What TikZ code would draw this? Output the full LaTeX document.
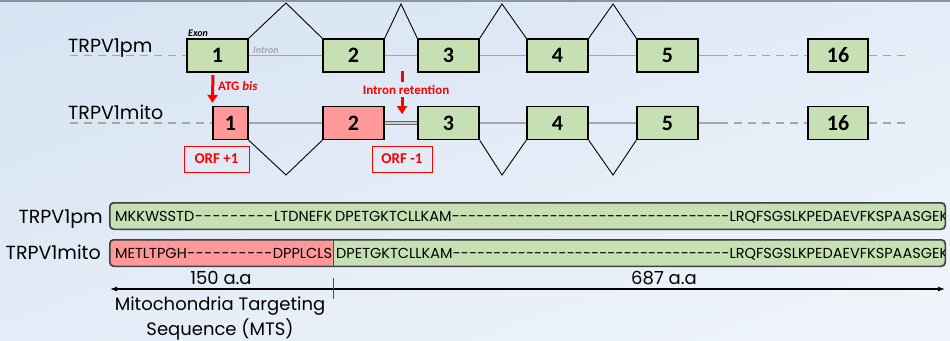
\documentclass[tikz,border=0pt]{standalone}
\usepackage{fontspec}
\setmainfont{Poppins}
\newfontfamily\carl{Carlito}
\usetikzlibrary{arrows.meta,shadings}
\definecolor{exg}{HTML}{C6E0B4}
\definecolor{exr}{HTML}{FF9999}
\definecolor{bgA}{HTML}{D6E3F2}
\definecolor{bgM}{HTML}{E3ECF7}
\definecolor{bgB}{HTML}{F1F5FB}
\definecolor{intr}{HTML}{A6A6A6}
\definecolor{redA}{HTML}{FF0000}
\definecolor{topl}{HTML}{8A949E}
\begin{document}
\begin{tikzpicture}[x=1pt,y=-1pt]
\tikzset{
 exon/.style={draw=black, line width=1.3pt, fill=exg, minimum width=61pt, minimum height=33pt, inner sep=0pt, font=\carl\bfseries\fontsize{22}{22}\selectfont},
 rexon/.style={exon, fill=exr},
 intron/.style={draw=intr, line width=1.5pt},
 introndash/.style={intron, dash pattern=on 8pt off 6pt},
 retained/.style={draw=black!60, line width=1pt, double=gray!40, double distance=1.2pt},
 splice/.style={draw=black, line width=0.9pt},
 redarrow/.style={draw=redA, line width=3pt, -{Triangle[length=8pt,width=10pt]}},
 redbar/.style={draw=redA, line width=3pt},
 redlab/.style={text=redA, font=\carl\bfseries\fontsize{13}{13}\selectfont, inner sep=0pt},
 orf/.style={draw=redA, line width=1pt, text=redA, font=\carl\bfseries\fontsize{15}{15}\selectfont, minimum height=26pt, inner sep=0pt},
 genelab/.style={font=\fontsize{19}{19}\selectfont, inner sep=0pt, text=black},
 pbar/.style={draw=black!75, line width=1pt, rounded corners=4pt, minimum width=835pt, minimum height=26pt, inner sep=0pt},
 seq/.style={font=\fontsize{14.5}{14.5}\selectfont, inner sep=0pt, text=black},
 scalelab/.style={font=\fontsize{18}{18}\selectfont, inner sep=0pt, text=black},
 smalllab/.style={font=\carl\fontsize{10}{10}\selectfont, inner sep=0pt},
}
\useasboundingbox (0,0) rectangle (950,340);
\shade[upper left=bgA, upper right=bgM, lower left=bgM, lower right=bgB] (0,0) rectangle (950,340);
\draw[topl, line width=2pt] (0,1) -- (950,1);

% ---------- gene rows ----------
\node[genelab, anchor=base west] (g1) at (68,52) {TRPV1pm};
\node[genelab, anchor=base west] (g2) at (68,119) {TRPV1mito};

\node[exon] (e1) at (217.5,55.5) {1};
\node[exon] (e2) at (353.5,55.5) {2};
\node[exon] (e3) at (448.5,55.5) {3};
\node[exon] (e4) at (557.5,55.5) {4};
\node[exon] (e5) at (667.5,55.5) {5};
\node[exon, minimum width=60pt] (e16) at (838,55.5) {16};

\node[rexon, minimum width=35pt] (m1) at (230.5,123) {1};
\node[rexon] (m2) at (353.5,123) {2};
\node[exon] (m3) at (448.5,123) {3};
\node[exon] (m4) at (557.5,123) {4};
\node[exon] (m5) at (667.5,123) {5};
\node[exon, minimum width=60pt] (m16) at (838,123) {16};

\coordinate (r1s) at (70,55.5);
\coordinate (r1c) at (720,55.5);
\coordinate (r1e) at (908,55.5);
\coordinate (r2s) at (70,123);
\coordinate (r2c) at (720,123);
\coordinate (r2e) at (908,123);

\draw[introndash] (r1s) -- (e1.west);
\draw[intron] (e1.east) -- (e2.west);
\draw[intron] (e2.east) -- (e3.west);
\draw[intron] (e3.east) -- (e4.west);
\draw[intron] (e4.east) -- (e5.west);
\draw[intron] (e5.east) -- (r1c);
\draw[introndash] (r1c) -- (e16.west);
\draw[introndash] (e16.east) -- (r1e);

\draw[introndash] (r2s) -- (m1.west);
\draw[intron] (m1.east) -- (m2.west);
\draw[retained] (m2.east) -- (m3.west);
\draw[intron] (m3.east) -- (m4.west);
\draw[intron] (m4.east) -- (m5.west);
\draw[intron] (m5.east) -- (r2c);
\draw[introndash] (r2c) -- (m16.west);
\draw[introndash] (m16.east) -- (r2e);

% splicing
\coordinate (p1) at (286,3);
\coordinate (p2) at (401,4);
\coordinate (p3) at (502,4);
\coordinate (p4) at (613,4);
\draw[splice] (e1.north east) -- (p1) -- (e2.north west);
\draw[splice] (e2.north east) -- (p2) -- (e3.north west);
\draw[splice] (e3.north east) -- (p3) -- (e4.north west);
\draw[splice] (e4.north east) -- (p4) -- (e5.north west);

\coordinate (v1) at (286,175);
\coordinate (v3) at (502,175);
\coordinate (v4) at (613,175);
\draw[splice] (m1.south east) -- (v1) -- (m2.south west);
\draw[splice] (m3.south east) -- (v3) -- (m4.south west);
\draw[splice] (m4.south east) -- (v4) -- (m5.south west);

\node[smalllab, font=\carl\bfseries\itshape\fontsize{10}{10}\selectfont, anchor=base west] (lex) at (188,36) {Exon};
\node[smalllab, text=intr, font=\carl\bfseries\itshape\fontsize{10}{10}\selectfont, anchor=base west] (lin) at (253,53) {Intron};

% red annotations
\coordinate (a1) at (213,75);
\draw[redarrow] (a1) -- ([yshift=3pt]m1.north west);
\node[redlab, anchor=west] (atg) at (218,86) {ATG \textit{bis}};

\coordinate (b1) at (402,71);
\coordinate (b2) at (402,82);
\coordinate (b3) at (402,97);
\coordinate (b4) at (402,114);
\draw[redbar] (b1) -- (b2);
\draw[redarrow] (b3) -- (b4);
\node[redlab] (irt) at (406,90) {Intron retention};

\node[orf, minimum width=65pt] (orf1) at (216.5,159) {ORF +1};
\node[orf, minimum width=60pt] (orf2) at (402,159) {ORF -1};

% ---------- protein bars ----------
\node[genelab, anchor=base east] (q1) at (103,223) {TRPV1pm};
\node[genelab, anchor=base east] (q2) at (101,259) {TRPV1mito};

\node[pbar, fill=exg] (bar1) at (527.5,216) {};
\node[pbar, fill=exg, path picture={
  \fill[exr] (path picture bounding box.north west) rectangle ([xshift=223pt]path picture bounding box.south west);
  \draw[black!70, line width=1pt] ([xshift=223pt]path picture bounding box.north west) -- ([xshift=223pt]path picture bounding box.south west);
 }] (bar2) at (527.5,253) {};

\begin{scope}
\clip[rounded corners=4pt] (bar1.north west) rectangle (bar1.south east);
\node[seq, anchor=base west] (s1a) at (115,221.5) {\hbox to 217pt{MKKWSSTD\xleaders\hbox{-}\hfill LTDNEFK}};
\node[seq, anchor=base west] (s1b) at (335,221.5) {\hbox to 613pt{DPETGKTCLLKAM\xleaders\hbox{-}\hfill LRQFSGSLKPEDAEVFKSPAASGEK}};
\end{scope}
\begin{scope}
\clip[rounded corners=4pt] (bar2.north west) rectangle (bar2.south east);
\node[seq, anchor=base west] (s2a) at (115,258.5) {\hbox to 217pt{METLTPGH\xleaders\hbox{-}\hfill DPPLCLS}};
\node[seq, anchor=base west] (s2b) at (336,258.5) {\hbox to 612pt{DPETGKTCLLKAM\xleaders\hbox{-}\hfill LRQFSGSLKPEDAEVFKSPAASGEK}};
\end{scope}
\draw[draw=black!75, line width=1pt, rounded corners=4pt] (bar1.north west) rectangle (bar1.south east);
\draw[draw=black!75, line width=1pt, rounded corners=4pt] (bar2.north west) rectangle (bar2.south east);

% ---------- scale ----------
\coordinate (la) at (110,289);
\coordinate (ra) at (945,289);
\coordinate (t1) at (333,278);
\coordinate (t2) at (333,299);
\draw[line width=1.2pt, {Latex[length=7pt,width=5pt]}-{Latex[length=7pt,width=5pt]}] (la) -- (ra);
\draw[black!70, line width=1pt] (t1) -- (t2);
\node[scalelab] (l150) at (221,278) {150 a.a};
\node[scalelab] (l687) at (664,278) {687 a.a};
\node[scalelab, align=center, font=\fontsize{18}{25}\selectfont] (mts) at (220,318) {Mitochondria Targeting\\Sequence (MTS)};
\end{tikzpicture}
\end{document}
